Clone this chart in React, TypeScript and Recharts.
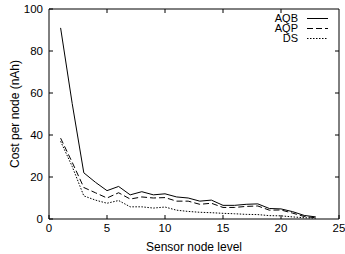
import { Line, LineChart, XAxis, YAxis } from "recharts";

const levels = [1, 2, 3, 4, 5, 6, 7, 8, 9, 10, 11, 12, 13, 14, 15, 16, 17, 18, 19, 20, 21, 22, 23];
const aqb = [91, 55, 22, 17.5, 13.5, 15.5, 11.5, 13, 11.5, 12, 10.5, 10, 8.5, 9, 6.5, 6.5, 7, 7.2, 5, 4.8, 3.5, 1.7, 1];
const aqp = [38.5, 27, 15, 12.5, 10, 12.5, 9.5, 10.5, 10, 10.2, 8.5, 8.5, 7, 7.5, 5.5, 5.5, 6, 6.2, 4.2, 4.3, 2.8, 1.2, 0.6];
const ds = [37, 25, 11, 9, 7.5, 8.8, 5.8, 5.8, 5.2, 5.7, 4.2, 3.6, 3.2, 3, 2.7, 2.5, 2.2, 2.1, 1.6, 1.5, 1, 0.6, 0.4];
const xTicks = [0, 5, 10, 15, 20, 25];
const yTicks = [0, 20, 40, 60, 80, 100];

const SERIES = [
  { key: "AQB", dash: undefined as string | undefined },
  { key: "AQP", dash: "6 3" },
  { key: "DS", dash: "1.5 1.5" },
];

const data = levels.map((lv, i) => ({ level: lv, AQB: aqb[i], AQP: aqp[i], DS: ds[i] }));

const X_MAX = xTicks[xTicks.length - 1];
const Y_MAX = yTicks[yTicks.length - 1];

const W = 345;
const H = 254;
const MARGIN = { top: 9, right: 6, left: 0, bottom: 0 };
const Y_AXIS_W = 49;
const X_AXIS_H = 35;
const TICK = 4;

const FONT = "'Liberation Sans', Arial, sans-serif";
const tickStyle = { fontSize: 11.5, fill: "#000", fontFamily: FONT };
const labelStyle = { fontSize: 12, fill: "#000", fontFamily: FONT };

// gnuplot-style closed border: top and right edges with inward ticks
function Border() {
  const x0 = MARGIN.left + Y_AXIS_W;
  const y0 = MARGIN.top;
  const w = W - x0 - MARGIN.right;
  const h = H - y0 - MARGIN.bottom - X_AXIS_H;
  return (
    <svg width={W} height={H} style={{ position: "absolute", left: 0, top: 0, pointerEvents: "none" }}>
      <line x1={x0} y1={y0} x2={x0 + w} y2={y0} stroke="#000" />
      <line x1={x0 + w} y1={y0} x2={x0 + w} y2={y0 + h} stroke="#000" />
      {xTicks.slice(1, -1).map((t) => {
        const x = x0 + (t / X_MAX) * w;
        return <line key={`tx${t}`} x1={x} x2={x} y1={y0} y2={y0 + TICK} stroke="#000" />;
      })}
      {yTicks.slice(1, -1).map((t) => {
        const y = y0 + h - (t / Y_MAX) * h;
        return <line key={`ty${t}`} x1={x0 + w} x2={x0 + w - TICK} y1={y} y2={y} stroke="#000" />;
      })}
    </svg>
  );
}

function KeyBox() {
  return (
    <div
      style={{
        position: "absolute",
        top: 13,
        right: 16,
        fontFamily: FONT,
        fontSize: 11,
        lineHeight: "10px",
        color: "#000",
      }}
    >
      {SERIES.map((s) => (
        <div key={s.key} style={{ display: "flex", alignItems: "center", justifyContent: "flex-end", height: 10 }}>
          <span>{s.key}</span>
          <svg width={24} height={10} style={{ marginLeft: 7 }}>
            <line x1={2} x2={23} y1={5.5} y2={5.5} stroke="#000" strokeWidth={1} strokeDasharray={s.dash} />
          </svg>
        </div>
      ))}
    </div>
  );
}

export default function App() {
  return (
    <div style={{ position: "absolute", left: 0, top: 0, width: W, height: H, background: "#fff" }}>
      <LineChart width={W} height={H} data={data} margin={MARGIN}>
        <XAxis
          xAxisId="b"
          dataKey="level"
          type="number"
          domain={[0, X_MAX]}
          ticks={xTicks}
          height={X_AXIS_H}
          tickSize={-TICK}
          tickMargin={9}
          stroke="#000"
          tick={tickStyle}
          label={{ value: "Sensor node level", position: "insideBottom", offset: 3, style: labelStyle }}
        />
        <YAxis
          yAxisId="l"
          type="number"
          domain={[0, Y_MAX]}
          ticks={yTicks}
          width={Y_AXIS_W}
          tickSize={-TICK}
          tickMargin={10}
          stroke="#000"
          tick={tickStyle}
          label={{ value: "Cost per node (nAh)", angle: -90, position: "insideLeft", offset: 15, style: { ...labelStyle, textAnchor: "middle" } }}
        />
        {SERIES.map((s) => (
          <Line
            key={s.key}
            xAxisId="b"
            yAxisId="l"
            dataKey={s.key}
            stroke="#000"
            strokeWidth={1}
            strokeDasharray={s.dash}
            dot={false}
            isAnimationActive={false}
          />
        ))}
      </LineChart>
      <Border />
      <KeyBox />
    </div>
  );
}
